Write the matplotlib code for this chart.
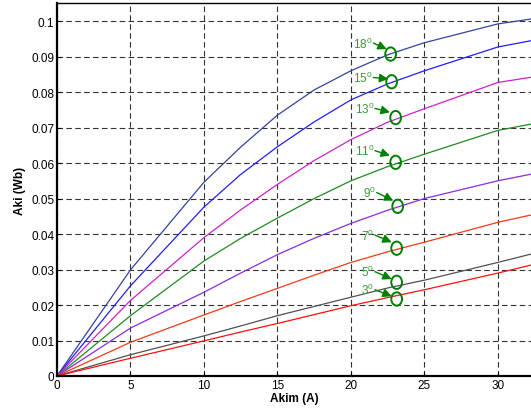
import matplotlib
matplotlib.use("Agg")
import matplotlib.pyplot as plt
import numpy as np
from matplotlib.patches import Ellipse

plt.rcParams['font.family'] = ['Liberation Sans', 'DejaVu Sans']
plt.rcParams['mathtext.default'] = 'regular'

# akim (A)
akim = [0, 5, 10, 12.5, 15, 17.5, 20, 22.5, 25, 30, 32.3]

# aki (Wb) for each rotor angle
aki_18 = [0, 0.0299, 0.0546, 0.0645, 0.0735, 0.0806, 0.0860, 0.0905, 0.0939, 0.0992, 0.1006]
aki_15 = [0, 0.0254, 0.0476, 0.0568, 0.0646, 0.0716, 0.0778, 0.0823, 0.0860, 0.0927, 0.0945]
aki_13 = [0, 0.0213, 0.0390, 0.0468, 0.0540, 0.0607, 0.0666, 0.0715, 0.0753, 0.0827, 0.0842]
aki_11 = [0, 0.0170, 0.0324, 0.0388, 0.0445, 0.0500, 0.0550, 0.0590, 0.0625, 0.0692, 0.0710]
aki_9 = [0, 0.0135, 0.0236, 0.0290, 0.0342, 0.0388, 0.0430, 0.0467, 0.0500, 0.0550, 0.0569]
aki_7 = [0, 0.0095, 0.0172, 0.0210, 0.0247, 0.0284, 0.0320, 0.0350, 0.0377, 0.0433, 0.0454]
aki_5 = [0, 0.0060, 0.0113, 0.0141, 0.0170, 0.0196, 0.0222, 0.0248, 0.0270, 0.0320, 0.0344]
aki_3 = [0, 0.0050, 0.0099, 0.0124, 0.0148, 0.0173, 0.0198, 0.0221, 0.0243, 0.0290, 0.0313]

angles = ['18', '15', '13', '11', '9', '7', '5', '3']
curves = [aki_18, aki_15, aki_13, aki_11, aki_9, aki_7, aki_5, aki_3]
colors = ['#34439e', '#1f1fff', '#cc22cc', '#1e8c1e', '#8a2be2', '#f03a1a', '#505050', '#ff1010']

# annotation: circle centre, arrow tail, arrow head
circle_x = [22.7, 22.77, 23.04, 23.04, 23.18, 23.11, 23.11, 23.11]
circle_y = [0.0907, 0.0829, 0.0728, 0.0602, 0.0478, 0.0360, 0.0264, 0.0217]
tail_x = [21.52, 21.52, 21.63, 21.63, 21.75, 21.63, 21.63, 21.63]
tail_y = [0.0938, 0.0841, 0.0754, 0.0635, 0.0517, 0.0397, 0.0294, 0.0243]
head_x = [22.43, 22.54, 22.65, 22.65, 22.88, 22.77, 22.77, 22.77]
head_y = [0.0921, 0.0837, 0.0743, 0.0621, 0.0494, 0.0377, 0.0273, 0.0225]

fig = plt.figure(figsize=(5.31, 4.14), dpi=100)
ax = fig.add_axes([57 / 531, 1 - 377 / 414, 1 - 57 / 531, (377 - 4.3) / 414])

for y, c in zip(curves, colors):
    ax.plot(akim, y, color=c, lw=0.9)

green = '#008000'
for i in range(len(angles)):
    ax.add_patch(Ellipse((circle_x[i], circle_y[i]), 0.73, 0.00375,
                         fill=False, ec=green, lw=1.4, zorder=5))
    ax.annotate('', xy=(head_x[i], head_y[i]), xytext=(tail_x[i], tail_y[i]),
                arrowprops=dict(arrowstyle='-|>', color=green, lw=1.0,
                                mutation_scale=13, shrinkA=0, shrinkB=0), zorder=5)
    ax.text(tail_x[i] - 0.03, tail_y[i], angles[i] + '$^{0}$', color='#3c9a3c',
            fontsize=8.5, ha='right', va='center', zorder=5)

ax.set_xlim(0, 32.25)
ax.set_ylim(0, 0.105)
ax.set_xticks([0, 5, 10, 15, 20, 25, 30])
ax.set_yticks(np.arange(0, 0.101, 0.01))
ax.set_yticklabels(['0', '0.01', '0.02', '0.03', '0.04', '0.05', '0.06', '0.07', '0.08', '0.09', '0.1'])
ax.tick_params(direction='in', labelsize=8.5, length=3, width=0.8, pad=2)
ax.grid(True, color='#333333', linestyle=(0, (5, 3)), lw=0.8)

ax.spines['right'].set_visible(False)
ax.spines['left'].set_linewidth(1.6)
ax.spines['bottom'].set_linewidth(1.6)
ax.spines['top'].set_linewidth(1.0)

ax.set_xlabel('Akim (A)', fontsize=8.5, fontweight='bold', labelpad=1)
ax.set_ylabel('Aki (Wb)', fontsize=8.5, fontweight='bold', labelpad=4)

fig.savefig('out.png', dpi=100)
